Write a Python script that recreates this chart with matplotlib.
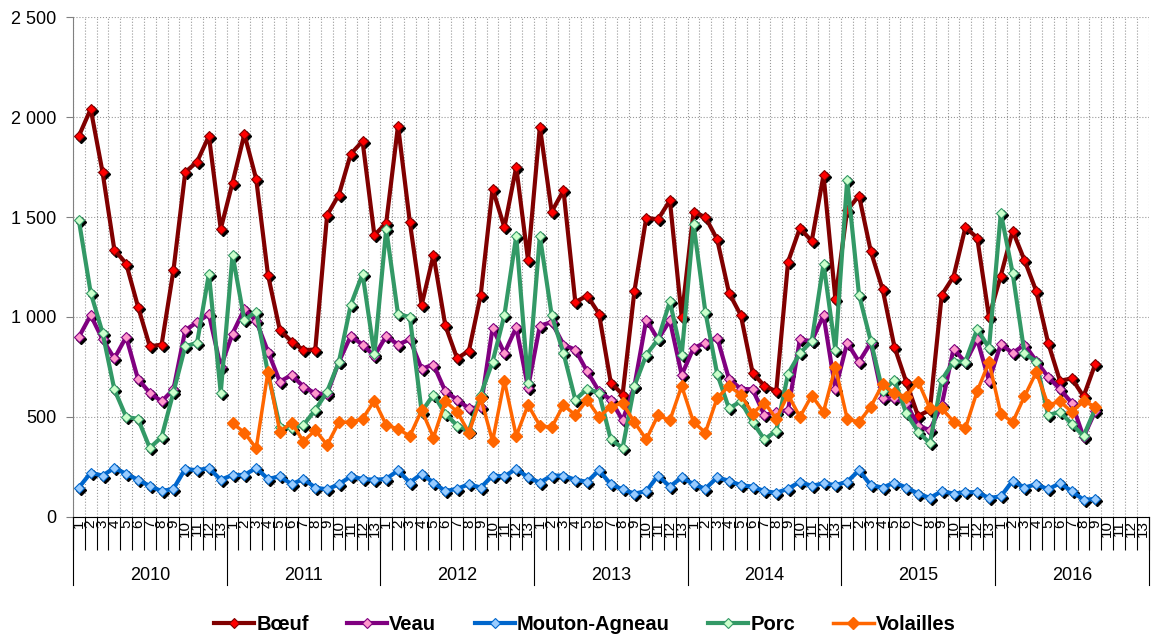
import numpy as np
import matplotlib
matplotlib.use("Agg")
import matplotlib.pyplot as plt
import matplotlib.transforms as mtransforms
from matplotlib.ticker import FuncFormatter, MultipleLocator

plt.rcParams['font.family'] = ['Liberation Sans', 'DejaVu Sans']

# 13 periods per year, 2010 to 2016
years = ["2010", "2011", "2012", "2013", "2014", "2015", "2016"]
periods = [str(p) for p in range(1, 14)]
nan = np.nan

boeuf = [1905, 2040, 1725, 1336, 1267, 1052, 853, 862, 1233, 1724, 1776, 1905, 1440,
         1672, 1914, 1690, 1210, 935, 877, 835, 837, 1509, 1612, 1815, 1879, 1409,
         1470, 1957, 1474, 1060, 1310, 958, 793, 831, 1112, 1641, 1448, 1750, 1284,
         1952, 1526, 1633, 1074, 1107, 1017, 672, 612, 1129, 1496, 1488, 1583, 1000,
         1524, 1500, 1388, 1121, 1009, 721, 655, 629, 1276, 1445, 1379, 1710, 1090,
         1534, 1607, 1328, 1138, 850, 675, 505, 535, 1110, 1202, 1448, 1396, 1000,
         1207, 1431, 1284, 1129, 871, 681, 693, 603, 767, nan, nan, nan, nan]

veau = [900, 1009, 888, 793, 900, 690, 621, 578, 638, 934, 974, 1014, 750,
        917, 1040, 980, 827, 677, 710, 652, 618, 615, 776, 905, 862, 805,
        905, 862, 888, 741, 762, 629, 586, 543, 550, 945, 819, 948, 647,
        957, 974, 862, 836, 728, 629, 586, 483, 655, 986, 888, 983, 710,
        845, 871, 897, 690, 641, 638, 509, 526, 534, 888, 879, 1009, 638,
        871, 776, 871, 593, 593, 568, 455, 435, 560, 842, 773, 888, 681,
        865, 819, 862, 780, 700, 640, 570, 400, 530, nan, nan, nan, nan]

mouton = [147, 221, 207, 245, 216, 186, 155, 129, 141, 241, 233, 245, 186,
          210, 210, 245, 190, 203, 164, 190, 147, 138, 164, 203, 190, 186,
          190, 233, 172, 216, 172, 129, 141, 164, 147, 207, 203, 241, 198,
          172, 207, 207, 186, 176, 233, 164, 138, 117, 129, 207, 152, 198,
          164, 141, 198, 181, 159, 152, 129, 121, 141, 176, 155, 169, 159,
          176, 233, 159, 147, 172, 147, 117, 95, 129, 117, 124, 124, 95,
          103, 181, 147, 164, 138, 169, 129, 86, 90, nan, nan, nan, nan]

porc = [1483, 1121, 922, 638, 500, 491, 345, 400, 624, 853, 871, 1216, 621,
        1310, 985, 1027, 720, 452, 445, 460, 535, 627, 776, 1060, 1216, 814,
        1440, 1014, 1000, 526, 612, 517, 457, 431, 612, 776, 1009, 1405, 672,
        1405, 1009, 819, 586, 641, 621, 388, 345, 655, 810, 888, 1078, 810,
        1465, 1026, 716, 543, 578, 474, 388, 431, 716, 819, 879, 1267, 836,
        1686, 1112, 879, 629, 685, 518, 427, 368, 685, 777, 777, 940, 845,
        1521, 1219, 819, 776, 509, 526, 465, 405, 543, nan, nan, nan, nan]

volailles = [nan] * 13 + [
    469, 422, 343, 727, 427, 472, 377, 435, 360, 474, 474, 491, 582,
    460, 440, 405, 534, 397, 578, 526, 422, 595, 379, 681, 405, 560,
    457, 448, 560, 509, 586, 500, 552, 569, 474, 388, 509, 483, 655,
    474, 422, 595, 655, 612, 517, 572, 491, 612, 500, 607, 526, 750,
    491, 474, 552, 664, 618, 602, 677, 543, 543, 477, 443, 629, 774,
    517, 474, 603, 724, 560, 578, 526, 578, 552, nan, nan, nan, nan]

series = [
    ("Bœuf", boeuf, "#800000", "#FF0000", True),
    ("Veau", veau, "#800080", "#FF99CC", True),
    ("Mouton-Agneau", mouton, "#0066CC", "#99CCFF", True),
    ("Porc", porc, "#339966", "#CCFFCC", True),
    ("Volailles", volailles, "#FF6600", "#FF6600", False),
]

n = len(years) * len(periods)
x = np.arange(n)

fig = plt.figure(figsize=(11.51, 6.37), dpi=100)
ax = fig.add_axes([0.0634, 0.1884, 0.9345, 0.7849])

shadow_tr = mtransforms.offset_copy(ax.transData, fig=fig, x=2, y=-2, units='dots')

handles = []
for i, (name, vals, lc, fc, shadow) in enumerate(series):
    vals = np.array(vals, dtype=float)
    if shadow:
        ax.plot(x, vals, linestyle='none', marker='D', ms=5, color='black',
                transform=shadow_tr, zorder=2 + i * 0.1)
        h, = ax.plot(x, vals, color=lc, lw=3, marker='D', ms=5, mfc=fc, mec=lc,
                     mew=0.8, zorder=3 + i * 0.1, label=name)
    else:
        h, = ax.plot(x, vals, color=lc, lw=2.5, marker='D', ms=6.5, mfc=fc, mec=lc,
                     zorder=3 + i * 0.1, label=name)
    handles.append(h)

ax.set_xlim(-0.5, n - 0.5)
ax.set_ylim(0, 2500)
ax.yaxis.set_major_locator(MultipleLocator(500))
ax.yaxis.set_major_formatter(FuncFormatter(lambda v, p: f"{v:,.0f}".replace(",", " ")))
ax.tick_params(axis='y', labelsize=13, length=5, pad=7, color='#808080')

ax.set_xticks(x)
ax.set_xticklabels(periods * len(years), rotation=90, fontsize=11)
ax.set_xticks(np.arange(n + 1) - 0.5, minor=True)
ax.tick_params(axis='x', which='major', length=0, pad=2)
ax.tick_params(axis='x', which='minor', length=24, width=0.8, color='black')

ax.grid(axis='y', which='major', linestyle=':', color='#999999', lw=0.8)
ax.grid(axis='x', which='minor', linestyle=':', color='#999999', lw=0.8)
ax.set_axisbelow(True)

for s in ['top', 'right']:
    ax.spines[s].set_visible(False)
ax.spines['left'].set_color('#808080')
ax.spines['bottom'].set_color('black')

# year groups under the period labels
trans = mtransforms.blended_transform_factory(ax.transData, ax.transAxes)
for k, yr in enumerate(years):
    ax.plot([13 * k - 0.5] * 2, [0, -0.136], transform=trans, color='black',
            lw=0.8, clip_on=False)
    ax.text(13 * k + 6, -0.118, yr, transform=trans, ha='center', va='center',
            fontsize=13)
ax.plot([n - 0.5] * 2, [0, -0.136], transform=trans, color='black', lw=0.8, clip_on=False)

fig.legend(handles=handles, loc='center', bbox_to_anchor=(0.508, 0.019), ncol=5,
           frameon=False, prop={'weight': 'bold', 'size': 14.5}, handlelength=2.0,
           handletextpad=0.1, columnspacing=1.9, borderpad=0)

fig.savefig("out.png", dpi=100)
